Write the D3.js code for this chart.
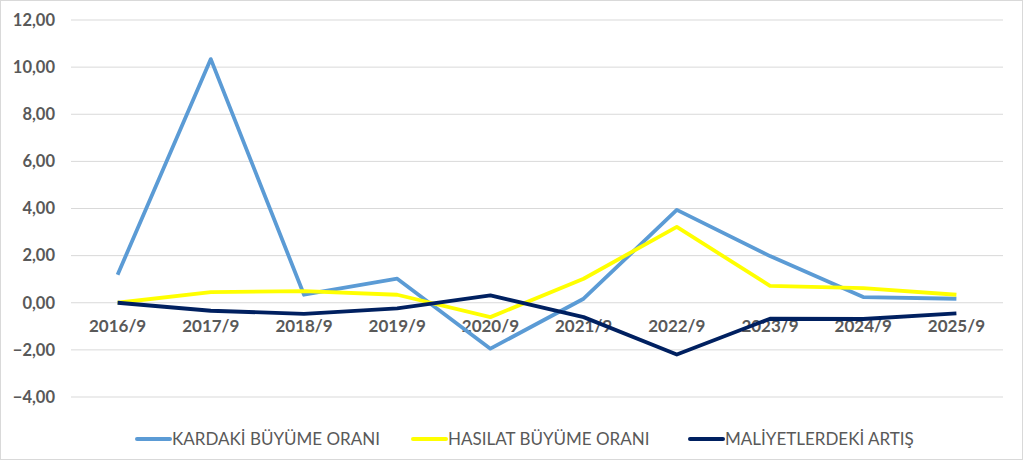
<!DOCTYPE html>
<html>
<head>
<meta charset="utf-8">
<script src="https://cdn.jsdelivr.net/npm/d3@7"></script>
<style>
  body { margin: 0; background: #fff; }
  svg text { font-family: Lato, "Open Sans", sans-serif; fill: #595959; }
</style>
</head>
<body>
<svg id="chart" width="1024" height="461"></svg>
<script>
const categories = ['2016/9', '2017/9', '2018/9', '2019/9', '2020/9', '2021/9', '2022/9', '2023/9', '2024/9', '2025/9'];
const kardaki = [1.19, 10.34, 0.34, 1.02, -1.95, 0.17, 3.94, 1.98, 0.24, 0.17];
const hasilat = [0.0, 0.45, 0.49, 0.34, -0.61, 1.02, 3.22, 0.72, 0.62, 0.34];
const maliyet = [0.0, -0.34, -0.47, -0.24, 0.31, -0.61, -2.2, -0.68, -0.69, -0.45];
const yTicks = [-4, -2, 0, 2, 4, 6, 8, 10, 12];
const seriesNames = ['KARDAKİ BÜYÜME ORANI', 'HASILAT BÜYÜME ORANI', 'MALİYETLERDEKİ ARTIŞ'];

const series = [
    { name: seriesNames[0], values: kardaki, color: '#5B9BD5' },
    { name: seriesNames[1], values: hasilat, color: '#FFFF00' },
    { name: seriesNames[2], values: maliyet, color: '#002060' }
];

const svg = d3.select('#chart');

// chart border
svg.append('rect')
    .attr('x', 0.5).attr('y', 0.5)
    .attr('width', 1022).attr('height', 459)
    .attr('fill', '#fff')
    .attr('stroke', '#d9d9d9');

let x = d3.scaleBand().domain(categories).range([71, 1003]);
let y = d3.scaleLinear().domain([-4, 12]).range([397, 20]);

// gridlines
svg.append('g')
    .selectAll('line')
    .data(yTicks)
    .join('line')
    .attr('x1', 71).attr('x2', 1003)
    .attr('y1', d => y(d)).attr('y2', d => y(d))
    .attr('stroke', '#d9d9d9')
    .attr('stroke-width', 1);

// y labels
svg.append('g')
    .selectAll('text')
    .data(yTicks)
    .join('text')
    .attr('x', 55)
    .attr('y', d => y(d))
    .attr('dy', '0.35em')
    .attr('text-anchor', 'end')
    .attr('font-size', 16.5)
    .attr('font-weight', 'bold')
    .text(d => d3.format('.2f')(d).replace('.', ','));

// x labels, drawn under the lines
svg.append('g')
    .selectAll('text')
    .data(categories)
    .join('text')
    .attr('x', d => x(d) + x.bandwidth() / 2)
    .attr('y', y(0) + 29)
    .attr('text-anchor', 'middle')
    .attr('font-size', 17)
    .attr('font-weight', 'bold')
    .text(d => d);

let line = d3.line()
    .x((d, i) => x(categories[i]) + x.bandwidth() / 2)
    .y(d => y(d));

series.forEach(function(s) {
    svg.append('path')
        .attr('d', line(s.values))
        .attr('fill', 'none')
        .attr('stroke', s.color)
        .attr('stroke-width', 3.8)
        .attr('stroke-linejoin', 'round');
});

// legend
let legendX = [137, 413, 690];
series.forEach(function(s, i) {
    let g = svg.append('g').attr('transform', 'translate(' + legendX[i] + ',439)');
    g.append('line')
        .attr('x1', 0).attr('x2', 33)
        .attr('stroke', s.color)
        .attr('stroke-width', 4)
        .attr('stroke-linecap', 'round');
    g.append('text')
        .attr('x', 35)
        .attr('dy', '0.35em')
        .attr('font-size', 17)
        .text(s.name);
});
</script>
</body>
</html>
